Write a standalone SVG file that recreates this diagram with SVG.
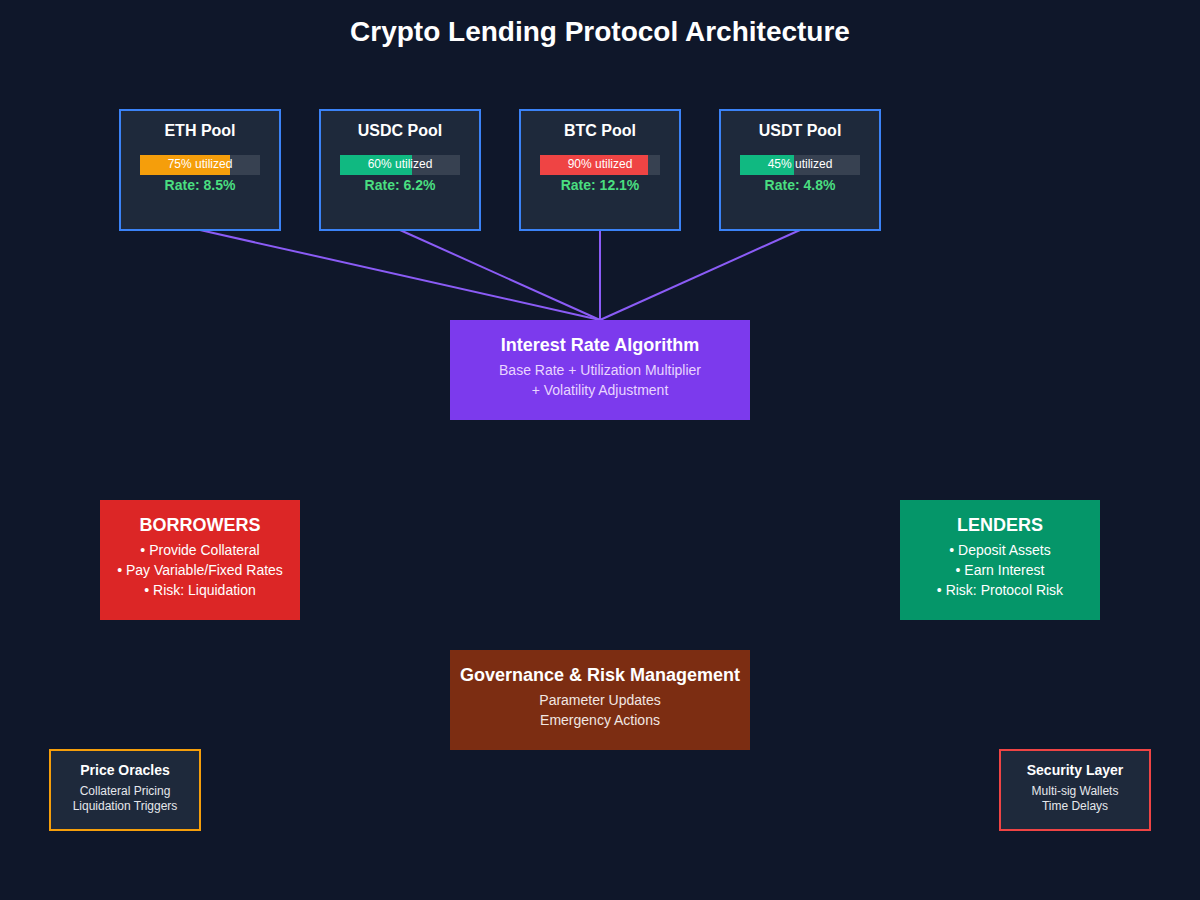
<svg xmlns="http://www.w3.org/2000/svg" width="1200" height="900" viewBox="0 0 1200 900">
<style>
text{font-family:"Liberation Sans",Arial,sans-serif;text-anchor:middle}
.title{font-size:28px;font-weight:bold;fill:#ffffff}
.pool{fill:#1e293b;stroke:#3b82f6;stroke-width:2}
.ptitle{font-size:16px;font-weight:bold;fill:#ffffff}
.barbg{fill:#374151}
.bartxt{font-size:12px;fill:#ffffff}
.rate{font-size:14px;font-weight:bold;fill:#4ade80}
.h{font-size:18px;font-weight:bold;fill:#ffffff}
.s{font-size:14px;fill:#ffffff}
.alg{font-size:14px;fill:#e9d5ff}
.gov{font-size:14px;fill:#f1e7e2}
.sh{font-size:14px;font-weight:bold;fill:#ffffff}
.ss{font-size:12px;fill:#e5e7eb}
.conn{stroke:#8b5cf6;stroke-width:2;fill:none}
</style>
<rect width="1200" height="900" fill="#0f172a"/>
<text class="title" x="600" y="41">Crypto Lending Protocol Architecture</text>
<g id="connectors">
<line class="conn" x1="200" y1="230" x2="600" y2="320"/>
<line class="conn" x1="400" y1="230" x2="600" y2="320"/>
<line class="conn" x1="600" y1="230" x2="600" y2="320"/>
<line class="conn" x1="800" y1="230" x2="600" y2="320"/>
</g>
<g id="eth-pool">
<rect class="pool" x="120" y="110" width="160" height="120"/>
<text class="ptitle" x="200" y="136">ETH Pool</text>
<rect class="barbg" x="140" y="155" width="120" height="20"/>
<rect x="140" y="155" width="90" height="20" fill="#f59e0b"/>
<text class="bartxt" x="200" y="168">75% utilized</text>
<text class="rate" x="200" y="190">Rate: 8.5%</text>
</g>
<g id="usdc-pool">
<rect class="pool" x="320" y="110" width="160" height="120"/>
<text class="ptitle" x="400" y="136">USDC Pool</text>
<rect class="barbg" x="340" y="155" width="120" height="20"/>
<rect x="340" y="155" width="72" height="20" fill="#10b981"/>
<text class="bartxt" x="400" y="168">60% utilized</text>
<text class="rate" x="400" y="190">Rate: 6.2%</text>
</g>
<g id="btc-pool">
<rect class="pool" x="520" y="110" width="160" height="120"/>
<text class="ptitle" x="600" y="136">BTC Pool</text>
<rect class="barbg" x="540" y="155" width="120" height="20"/>
<rect x="540" y="155" width="108" height="20" fill="#ef4444"/>
<text class="bartxt" x="600" y="168">90% utilized</text>
<text class="rate" x="600" y="190">Rate: 12.1%</text>
</g>
<g id="usdt-pool">
<rect class="pool" x="720" y="110" width="160" height="120"/>
<text class="ptitle" x="800" y="136">USDT Pool</text>
<rect class="barbg" x="740" y="155" width="120" height="20"/>
<rect x="740" y="155" width="54" height="20" fill="#10b981"/>
<text class="bartxt" x="800" y="168">45% utilized</text>
<text class="rate" x="800" y="190">Rate: 4.8%</text>
</g>
<g id="interest-algorithm">
<rect x="450" y="320" width="300" height="100" fill="#7c3aed"/>
<text class="h" x="600" y="351">Interest Rate Algorithm</text>
<text class="alg" x="600" y="375">Base Rate + Utilization Multiplier</text>
<text class="alg" x="600" y="395">+ Volatility Adjustment</text>
</g>
<g id="borrowers">
<rect x="100" y="500" width="200" height="120" fill="#dc2626"/>
<text class="h" x="200" y="531">BORROWERS</text>
<text class="s" x="200" y="555">• Provide Collateral</text>
<text class="s" x="200" y="575">• Pay Variable/Fixed Rates</text>
<text class="s" x="200" y="595">• Risk: Liquidation</text>
</g>
<g id="lenders">
<rect x="900" y="500" width="200" height="120" fill="#059669"/>
<text class="h" x="1000" y="531">LENDERS</text>
<text class="s" x="1000" y="555">• Deposit Assets</text>
<text class="s" x="1000" y="575">• Earn Interest</text>
<text class="s" x="1000" y="595">• Risk: Protocol Risk</text>
</g>
<g id="governance">
<rect x="450" y="650" width="300" height="100" fill="#7c2d12"/>
<text class="h" x="600" y="681">Governance &amp; Risk Management</text>
<text class="gov" x="600" y="705">Parameter Updates</text>
<text class="gov" x="600" y="725">Emergency Actions</text>
</g>
<g id="price-oracles">
<rect x="50" y="750" width="150" height="80" fill="#1e293b" stroke="#f59e0b" stroke-width="2"/>
<text class="sh" x="125" y="775">Price Oracles</text>
<text class="ss" x="125" y="795">Collateral Pricing</text>
<text class="ss" x="125" y="810">Liquidation Triggers</text>
</g>
<g id="security-layer">
<rect x="1000" y="750" width="150" height="80" fill="#1e293b" stroke="#ef4444" stroke-width="2"/>
<text class="sh" x="1075" y="775">Security Layer</text>
<text class="ss" x="1075" y="795">Multi-sig Wallets</text>
<text class="ss" x="1075" y="810">Time Delays</text>
</g>
</svg>
